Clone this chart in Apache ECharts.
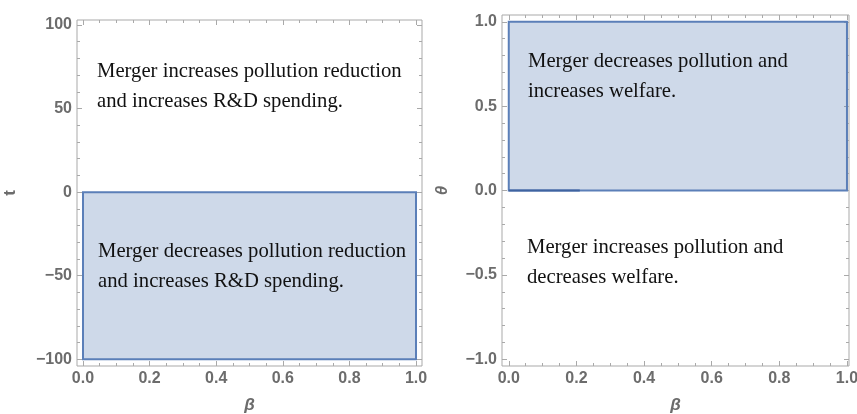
<!DOCTYPE html>
<html><head><meta charset="utf-8">
<script src="https://cdn.jsdelivr.net/npm/echarts@6/dist/echarts.min.js"></script>
<style>html,body{margin:0;padding:0;background:#fff}#c{width:857px;height:414px}</style>
</head><body><div id="c"></div>
<script>
// ---- data ----
const betaTicks = [0, 0.2, 0.4, 0.6, 0.8, 1.0];
const tTicks = [-100, -50, 0, 50, 100];
const thetaTicks = [-1, -0.5, 0, 0.5, 1];
// shaded regions: [beta0, y0, beta1, y1]
const leftRegion = [0, -100, 1, 0];
const rightRegion = [0, 0, 1, 1];
const rightEdgeSegment = [[0, 0], [0.21, 0]];
const leftTexts = ["Merger increases pollution reduction\nand increases R&D spending.",
                   "Merger decreases pollution reduction\nand increases R&D spending."];
const rightTexts = ["Merger decreases pollution and\nincreases welfare.",
                    "Merger increases pollution and\ndecreases welfare."];

function range(a, b, s) { const r = []; for (let v = a; v <= b + 1e-9; v += s) r.push(+v.toFixed(4)); return r; }
const betaMinor = range(0, 1, 0.05);
const tMinor = range(-100, 100, 10);
const thetaMinor = range(-1, 1, 0.1);

const FRAME = '#a9a9a9';
const LBL = '#6c6c6c';
const STROKE = '#5b7fb8';
const FILL = 'rgba(94,129,181,0.3)';

function ax(gi, min, max, pos, tickVals, len, labelVals, fmt, name, nameGap) {
  const o = {
    type: 'value', gridIndex: gi, min: min, max: max, position: pos,
    axisLine: { show: false, onZero: false },
    splitLine: { show: false },
    axisTick: { show: true, inside: true, length: len, customValues: tickVals, lineStyle: { color: FRAME, width: 1 } },
    axisLabel: labelVals ? { show: true, customValues: labelVals, formatter: fmt, color: LBL, fontFamily: 'Liberation Sans', fontWeight: 'bold', fontSize: 16, margin: 5 } : { show: false }
  };
  if (name) {
    o.name = name; o.nameLocation = 'middle'; o.nameGap = nameGap;
    o.nameTextStyle = { color: LBL, fontFamily: 'Liberation Sans', fontWeight: 'bold', fontStyle: name === 't' ? 'normal' : 'italic', fontSize: 17 };
  }
  return o;
}
const f1 = v => (v < 0 ? '\u2212' : '') + Math.abs(v).toFixed(1);
const f0 = v => (v < 0 ? '\u2212' : '') + Math.abs(v).toFixed(0);

const xMinL = -0.018, xMaxL = 1.018, yMinL = -104, yMaxL = 103;
const xMinR = -0.02, xMaxR = 1.006, yMinR = -1.04, yMaxR = 1.04;

const xAxes = [
  ax(0, xMinL, xMaxL, 'bottom', betaTicks, 5, betaTicks, f1, '\u03b2', 31),
  ax(0, xMinL, xMaxL, 'bottom', betaMinor, 3, null),
  ax(0, xMinL, xMaxL, 'top', betaTicks, 5, null),
  ax(0, xMinL, xMaxL, 'top', betaMinor, 3, null),
  ax(1, xMinR, xMaxR, 'bottom', betaTicks, 5, betaTicks, f1, '\u03b2', 31),
  ax(1, xMinR, xMaxR, 'bottom', betaMinor, 3, null),
  ax(1, xMinR, xMaxR, 'top', betaTicks, 5, null),
  ax(1, xMinR, xMaxR, 'top', betaMinor, 3, null)
];
const yAxes = [
  ax(0, yMinL, yMaxL, 'left', tTicks, 5, tTicks, f0, 't', 58),
  ax(0, yMinL, yMaxL, 'left', tMinor, 3, null),
  ax(0, yMinL, yMaxL, 'right', tTicks, 5, null),
  ax(0, yMinL, yMaxL, 'right', tMinor, 3, null),
  ax(1, yMinR, yMaxR, 'left', thetaTicks, 5, thetaTicks, f1, '\u03b8', 51),
  ax(1, yMinR, yMaxR, 'left', thetaMinor, 3, null),
  ax(1, yMinR, yMaxR, 'right', thetaTicks, 5, null),
  ax(1, yMinR, yMaxR, 'right', thetaMinor, 3, null)
];

function rectSeries(xi, yi, region) {
  return {
    type: 'custom', xAxisIndex: xi, yAxisIndex: yi, clip: false, silent: true,
    data: [region], encode: { x: [0, 2], y: [1, 3] },
    renderItem: function (params, api) {
      const p1 = api.coord([api.value(0), api.value(1)]);
      const p2 = api.coord([api.value(2), api.value(3)]);
      return { type: 'rect',
        shape: { x: Math.min(p1[0], p2[0]), y: Math.min(p1[1], p2[1]), width: Math.abs(p2[0] - p1[0]), height: Math.abs(p2[1] - p1[1]) },
        style: { fill: FILL, stroke: STROKE, lineWidth: 2 } };
    }
  };
}

const textStyle = { fontFamily: 'Liberation Serif', fontSize: 20.7, fill: '#111', lineHeight: 30 };
function txt(x, y, s) { return { type: 'text', left: x, top: y, style: Object.assign({ text: s }, textStyle), z: 10 }; }

const chart = echarts.init(document.getElementById('c'), null, { renderer: 'canvas' });
chart.setOption({
  animation: false,
  backgroundColor: '#fff',
  grid: [
    { left: 77, right: 435, top: 20, bottom: 48, show: true, borderColor: FRAME, borderWidth: 1, backgroundColor: 'transparent', containLabel: false, outerBoundsMode: 'none' },
    { left: 502, right: 8, top: 15, bottom: 48, show: true, borderColor: FRAME, borderWidth: 1, backgroundColor: 'transparent', containLabel: false, outerBoundsMode: 'none' }
  ],
  xAxis: xAxes,
  yAxis: yAxes,
  series: [
    rectSeries(0, 0, leftRegion),
    rectSeries(4, 4, rightRegion),
    { type: 'line', xAxisIndex: 4, yAxisIndex: 4, data: rightEdgeSegment, symbol: 'none', silent: true,
      lineStyle: { color: '#3f63a0', width: 2 }, z: 5 }
  ],
  graphic: [
    txt(97, 57, leftTexts[0]),
    txt(98, 237, leftTexts[1]),
    txt(528, 47, rightTexts[0]),
    txt(527, 233, rightTexts[1])
  ]
});
</script></body></html>
